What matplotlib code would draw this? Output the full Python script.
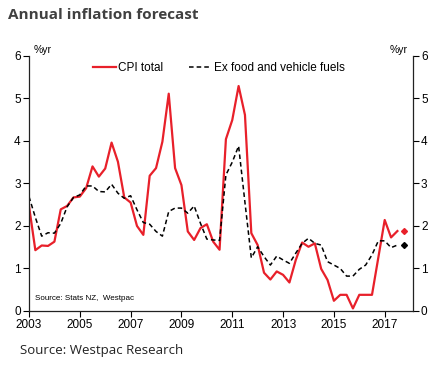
import numpy as np
import matplotlib
matplotlib.use("Agg")
import matplotlib.pyplot as plt

plt.rcParams['font.family'] = ['Liberation Sans', 'DejaVu Sans']

# quarterly data from March 2003
start_year = 2003
cpi_total = [2.47, 1.43, 1.54, 1.53, 1.63, 2.39, 2.47, 2.67, 2.69, 2.89,
             3.40, 3.16, 3.35, 3.96, 3.51, 2.67, 2.55, 2.00, 1.79, 3.18,
             3.36, 3.98, 5.11, 3.36, 2.96, 1.87, 1.67, 1.95, 2.04, 1.63,
             1.44, 4.04, 4.49, 5.29, 4.61, 1.83, 1.55, 0.90, 0.74, 0.93,
             0.85, 0.67, 1.20, 1.61, 1.51, 1.59, 0.99, 0.73, 0.24, 0.38,
             0.38, 0.06, 0.38, 0.38, 0.38, 1.26, 2.14, 1.73, 1.88]
ex_food_fuel = [2.69, 2.20, 1.76, 1.84, 1.83, 2.06, 2.45, 2.67, 2.73, 2.94,
                2.94, 2.81, 2.80, 2.98, 2.77, 2.65, 2.71, 2.38, 2.08, 2.04,
                1.87, 1.76, 2.34, 2.42, 2.42, 2.30, 2.47, 2.06, 1.69, 1.67,
                1.66, 3.20, 3.50, 3.88, 2.55, 1.25, 1.51, 1.28, 1.08, 1.29,
                1.20, 1.12, 1.36, 1.59, 1.71, 1.59, 1.55, 1.16, 1.08, 1.00,
                0.82, 0.82, 0.98, 1.08, 1.32, 1.65, 1.65, 1.49, 1.55]
# forecast points (one quarter after the last observation)
cpi_forecast = 1.89
ex_forecast = 1.55

year_ticks = [2003, 2005, 2007, 2009, 2011, 2013, 2015, 2017]

red = '#e8202a'

t = start_year + np.arange(len(cpi_total)) / 4
t_fc = start_year + len(cpi_total) / 4

fig = plt.figure(figsize=(4.42, 3.65), dpi=100)
ax = fig.add_axes([0.0656, 0.148, 0.868, 0.699])

ax.plot(t, cpi_total, color=red, lw=1.6, label='CPI total')
ax.plot(t, ex_food_fuel, color='black', lw=1.1, ls=(0, (3, 2)),
        label='Ex food and vehicle fuels')
ax.plot([t_fc], [cpi_forecast], marker='D', ms=3, color=red, ls='none')
ax.plot([t_fc], [ex_forecast], marker='D', ms=3, color='black', ls='none')

ax.set_xlim(2003, 2018.1)
ax.set_ylim(0, 6)
ax.set_xticks(year_ticks)
ax.set_yticks(range(7))
ax.spines['top'].set_visible(False)
for s in ['left', 'right', 'bottom']:
    ax.spines[s].set_linewidth(0.9)
    ax.spines[s].set_color('#222222')
ax.tick_params(axis='both', direction='out', length=4, width=0.8,
               labelsize=8.5, pad=2)
ax.tick_params(axis='y', labelright=True, right=True)

ax.text(0.012, 1.005, '%yr', transform=ax.transAxes, fontsize=7.5,
        ha='left', va='bottom')
ax.text(0.988, 1.005, '%yr', transform=ax.transAxes, fontsize=7.5,
        ha='right', va='bottom')
ax.text(0.016, 0.035, 'Source: Stats NZ,  Westpac', transform=ax.transAxes,
        fontsize=5.8, ha='left', va='bottom')

ax.legend(loc='upper center', bbox_to_anchor=(0.495, 0.995), ncol=2,
          frameon=False, fontsize=8.5, handlelength=1.9, handletextpad=0.2,
          columnspacing=2.2, borderaxespad=0)

fig.text(0.018, 0.96, 'Annual inflation forecast', fontsize=11,
         fontweight='bold', color='#404040', family='Open Sans',
         ha='left', va='center')
fig.text(0.045, 0.04, 'Source: Westpac Research', fontsize=9.5,
         color='#222222', family='Open Sans', ha='left', va='center')

fig.savefig('out.png', dpi=100)
